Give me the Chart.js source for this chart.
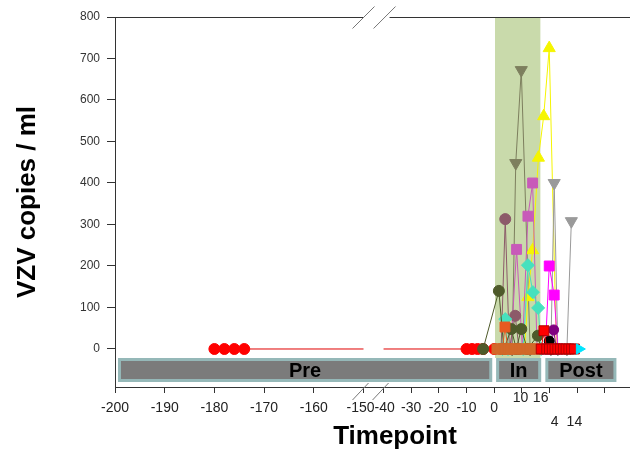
<!DOCTYPE html>
<html><head><meta charset="utf-8">
<script src="https://cdn.jsdelivr.net/npm/chart.js@4.4.0/dist/chart.umd.min.js"></script>
<style>html,body{margin:0;padding:0;background:#fff;}#wrap{width:633px;height:452px;}</style>
</head><body><div id="wrap"><canvas id="c" width="633" height="452"></canvas></div>
<script>
// ---- axis definitions ----
const yTicks = [0,100,200,300,400,500,600,700,800];
const xTickMarks = [-200,-190,-180,-170,-160,-150,-40,-30,-20,-10,0,10,20,30,40];
const xLabelText = ['-200','-190','-180','-170','-160','-150','-40','-30','-20','-10','0','10','16','4','14'];
const xLabelPos  = [-200,-190,-180,-170,-160,-150,-40,-30,-20,-10,0,9.5,16.8,21.9,29];
const xLabelRow  = [0,0,0,0,0,0,0,0,0,0,0,-1,-1,1,1];

// ---- phases ----
const phaseNames = ['Pre','In','Post'];
const phaseStart = [-199.4, 0.7, 18.5];
const phaseEnd   = [-0.7, 17, 44.2];
const greenStart = 0.3, greenEnd = 16.7;

// ---- series (timepoint, VZV copies/ml) ----
const redPreX = [-180,-178,-176,-174,-10,-8,-6,-4,0];
const redPreY = [0,0,0,0,0,0,0,0,0];
const darkOliveX = [-4,1.7,3.5,6.2,8,9.8,12,15.8,17];
const darkOliveY = [0,140,0,48,0,48,0,32,0];
const oliveGrayX = [6.5,7.8,9.8,13];
const oliveGrayY = [0,448,672,0];
const yellowX = [11,12.2,13.9,16,17.9,19.9,22.5];
const yellowY = [0,125,238,461,561,725,0];
const orchidX = [6,8.1,10.2,12.2,13.9,15.5];
const orchidY = [0,240,0,320,400,0];
const mauveX = [2.5,4,5.5,7.6,9];
const mauveY = [0,313,0,80,0];
const turquoiseX = [3,4,5,10.5,12.2,14,15.9,17];
const turquoiseY = [0,72,0,0,202,137,99,0];
const orangeRedX = [3,3.9,5];
const orangeRedY = [0,53,0];
const chocolateX = [1,2,3,4,5,6,7,8,9,10,11,12,13,14,15,16];
const chocolateY = [0,0,0,0,0,0,0,0,0,0,0,0,0,0,0,0];
const redPostX = [17,18,19,20,21,22,23,24,25,26,27,28,29];
const redPostY = [0,44,0,0,0,0,0,0,0,0,0,0,0];
const blackX = [19,19.9,21];
const blackY = [0,19,0];
const purpleX = [20.5,21.5,22.5];
const purpleY = [0,46,0];
const magentaX = [18.5,19.9,21.7,23];
const magentaY = [0,200,130,0];
const grayX = [20.5,21.7,23,26.3,27.9];
const grayY = [0,400,0,0,308];
const cyanX = [30.8];
const cyanY = [0];

// ---- broken axis mapping ----
const FAR_K = 1.797, GAP_U = 7.25;
function toAxis(t){
  if (t >= -40) return t;
  return -40 - GAP_U + (t + 150) * FAR_K;
}
const gapMid = -40 - GAP_U/2;
const xMin = toAxis(-200), xMax = 47.3;
const yMin = -91.6, yMax = 800;

function pts(xs, ys){
  const out = [];
  for (let i=0;i<xs.length;i++){
    if (i>0 && xs[i-1] <= -150 && xs[i] >= -40){
      const f = (t) => ys[i-1] + (ys[i]-ys[i-1]) * (t - xs[i-1]) / (xs[i]-xs[i-1]);
      out.push({x: toAxis(-150), y: f(-150), h: 1});
      out.push({x: gapMid, y: null, h: 1});
      out.push({x: toAxis(-40), y: f(-40), h: 1});
    }
    out.push({x: toAxis(xs[i]), y: ys[i]});
  }
  return out;
}
function ds(xs, ys, color, style, r, extra){
  return Object.assign({
    data: pts(xs, ys), showLine: true, spanGaps: false,
    borderColor: color, borderWidth: 1, backgroundColor: color,
    pointBackgroundColor: color, pointBorderColor: color, pointBorderWidth: 1,
    pointStyle: style,
    pointRadius: (c) => (c.raw && c.raw.h) ? 0 : r,
    pointHoverRadius: (c) => (c.raw && c.raw.h) ? 0 : r
  }, extra || {});
}

const datasets = [
  ds(cyanX, cyanY, '#00e5ff', 'triangle', 6, {pointRotation: 90}),
  ds(redPostX, redPostY, '#ff0000', 'rect', 7, {pointBorderColor:'#b00000'}),
  ds(chocolateX, chocolateY, '#d2692a', 'rect', 7),
  ds(blackX, blackY, '#000000', 'circle', 5),
  ds(purpleX, purpleY, '#800080', 'circle', 5),
  ds(magentaX, magentaY, '#ff00ff', 'rect', 7),
  ds(grayX, grayY, '#9a9a9a', 'triangle', 7, {pointRotation: 180}),
  ds(orangeRedX, orangeRedY, '#e85a20', 'rect', 7),
  ds(darkOliveX, darkOliveY, '#4e5a2a', 'circle', 5.5),
  ds(turquoiseX, turquoiseY, '#46e1be', 'rectRot', 6.5),
  ds(mauveX, mauveY, '#8c5a69', 'circle', 5.5),
  ds(orchidX, orchidY, '#c85ab9', 'rect', 7),
  ds(yellowX, yellowY, '#f5f500', 'triangle', 7),
  ds(oliveGrayX, oliveGrayY, '#7d7f5e', 'triangle', 7, {pointRotation: 180}),
  ds(redPreX, redPreY, '#ff0000', 'circle', 5.5, {borderColor:'#e00000'})
];

const overlay = {
  id: 'overlay',
  beforeDatasetsDraw(chart){
    const {ctx, chartArea, scales:{x, y}} = chart;
    ctx.save();
    const gx0 = x.getPixelForValue(greenStart), gx1 = x.getPixelForValue(greenEnd);
    const gBottom = y.getPixelForValue(-21.7);
    ctx.fillStyle = '#c9daab';
    ctx.fillRect(gx0, chartArea.top, gx1 - gx0, gBottom - chartArea.top);
    const by0 = y.getPixelForValue(-21.7), by1 = y.getPixelForValue(-79.5);
    for (let i=0;i<phaseNames.length;i++){
      const bx0 = x.getPixelForValue(toAxis(phaseStart[i]));
      const bx1 = x.getPixelForValue(toAxis(phaseEnd[i]));
      ctx.fillStyle = '#7b7b7b';
      ctx.strokeStyle = '#95b8b8';
      ctx.lineWidth = 3;
      ctx.beginPath();
      ctx.rect(bx0 + 1.5, by0 + 1.5, bx1 - bx0 - 3, by1 - by0 - 3);
      ctx.fill(); ctx.stroke();
      ctx.fillStyle = '#000';
      ctx.font = 'bold 20px "Liberation Sans", Arial, sans-serif';
      ctx.textAlign = 'center'; ctx.textBaseline = 'middle';
      ctx.fillText(phaseNames[i], (bx0 + bx1)/2, (by0 + by1)/2 + 1);
    }
    ctx.restore();
  },
  afterDraw(chart){
    const {ctx, chartArea, scales:{x}} = chart;
    ctx.save();
    const pA = x.getPixelForValue(toAxis(-150)), pB = x.getPixelForValue(toAxis(-40));
    const top = chartArea.top + 0.5;
    const rightEnd = chartArea.right + 5;
    ctx.strokeStyle = '#333'; ctx.lineWidth = 1;
    ctx.beginPath();
    ctx.moveTo(chartArea.left, top); ctx.lineTo(pA, top);
    ctx.moveTo(pB + 6, top); ctx.lineTo(rightEnd, top);
    ctx.moveTo(chartArea.right, chartArea.bottom + 0.5); ctx.lineTo(rightEnd, chartArea.bottom + 0.5);
    ctx.stroke();
    ctx.strokeStyle = '#777';
    ctx.beginPath();
    [pA, pB + 1].forEach(c => { ctx.moveTo(c - 11, top + 11); ctx.lineTo(c + 11, top - 11); });
    const bt = chartArea.bottom;
    [pA - 3, pB - 3].forEach(c => { ctx.moveTo(c - 8, bt + 13); ctx.lineTo(c + 8, bt - 4); });
    ctx.stroke();
    ctx.fillStyle = '#222';
    ctx.font = '14px "Liberation Sans", Arial, sans-serif';
    ctx.textBaseline = 'middle';
    const mid = (pA + pB) / 2 + 1;
    for (let i=0;i<xLabelText.length;i++){
      let px = x.getPixelForValue(toAxis(xLabelPos[i]));
      let align = 'center';
      if (xLabelPos[i] === -150){ px = mid; align = 'right'; }
      if (xLabelPos[i] === -40){ px = mid; align = 'left'; }
      ctx.textAlign = align;
      const yy = 408 + (xLabelRow[i] < 0 ? -10 : xLabelRow[i] > 0 ? 14 : 0);
      ctx.fillText(xLabelText[i], px, yy);
    }
    ctx.fillStyle = '#000';
    ctx.font = 'bold 26px "Liberation Sans", Arial, sans-serif';
    ctx.textAlign = 'center';
    ctx.fillText('Timepoint', 395, 437);
    ctx.restore();
  }
};

new Chart(document.getElementById('c'), {
  type: 'scatter',
  data: { datasets },
  options: {
    responsive: false, animation: false, devicePixelRatio: 1,
    layout: { padding: { top: 17, right: 3, left: 0, bottom: 0 } },
    plugins: { legend: { display: false }, tooltip: { enabled: false } },
    scales: {
      x: {
        type: 'linear', min: xMin, max: xMax,
        afterBuildTicks(s){ s.ticks = xTickMarks.map(t => ({ value: toAxis(t) })); },
        afterFit(s){ s.height = 65; },
        border: { display: true, color: '#333', width: 1 },
        grid: { drawOnChartArea: false, drawTicks: true, tickLength: 6, color: '#333' },
        ticks: { display: false }
      },
      y: {
        type: 'linear', min: yMin, max: yMax,
        afterBuildTicks(s){ s.ticks = yTicks.map(v => ({ value: v })); },
        afterFit(s){ s.width = 115; },
        border: { display: true, color: '#333', width: 1 },
        grid: { drawOnChartArea: false, drawTicks: true, tickLength: 8, color: '#333' },
        ticks: { font: { family: '"Liberation Sans", Arial, sans-serif', size: 12 }, color: '#333', padding: 7 },
        title: { display: true, text: 'VZV copies / ml', color: '#000',
          font: { family: '"Liberation Sans", Arial, sans-serif', size: 26, weight: 'bold' },
          padding: { top: 12, bottom: 0 } }
      }
    }
  },
  plugins: [overlay]
});
</script>
</body></html>
